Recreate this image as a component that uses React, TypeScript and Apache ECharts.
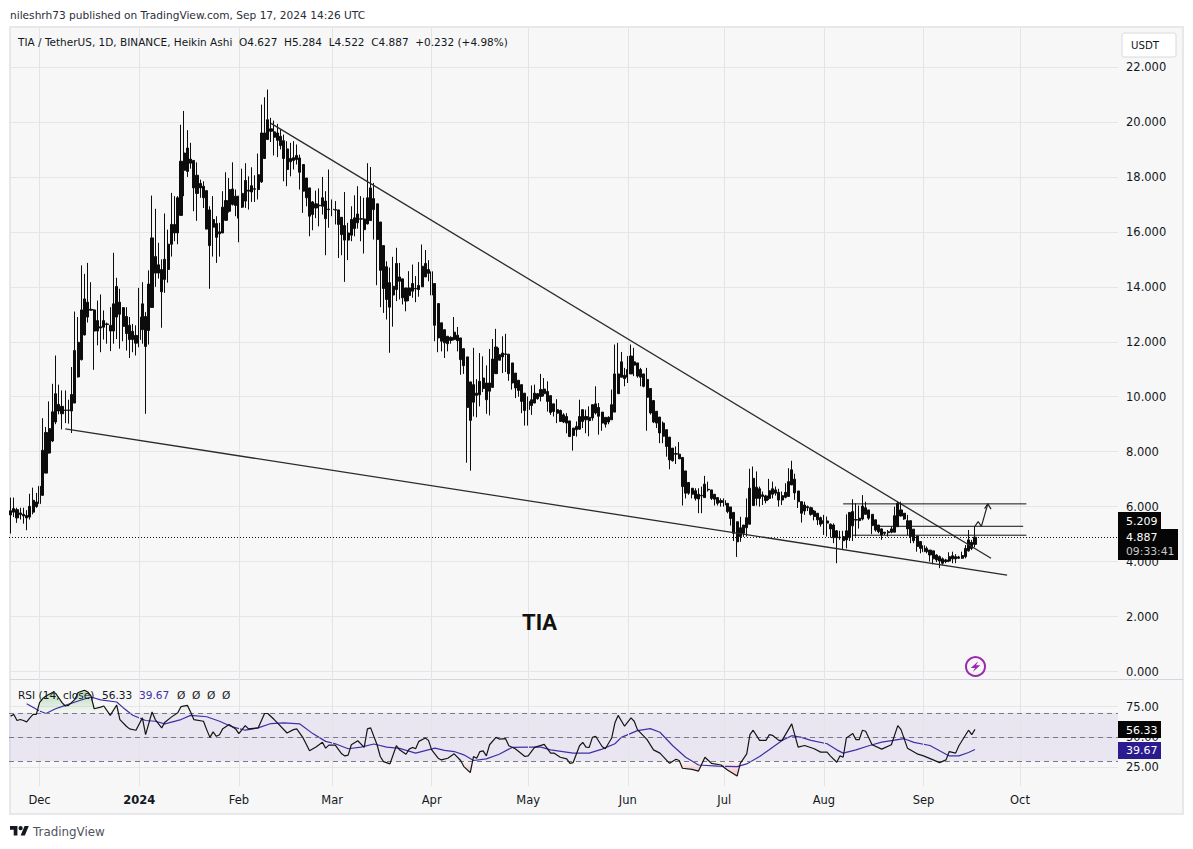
import React, { useEffect, useRef } from "react";
import * as echarts from "echarts";

// rows: [open, close, low, high]
const nov23 = [[5.7,5.85,5.02,6.33],[5.93,5.8,5.62,6.33],[5.89,5.59,5.41,5.96],[5.77,5.71,5.53,5.96],[5.72,5.66,5.38,5.96],[5.68,5.59,5.14,5.87],[5.62,6.01,5.53,6.47],[5.8,6.23,5.72,6.69],[6.0,6.17,5.96,6.5]];
const dec23 = [[6.11,6.74,6.05,7.28],[6.41,8.05,6.41,9.22],[7.22,8.7,7.22,8.9],[7.95,8.84,7.93,9.83],[8.39,9.45,8.35,10.47],[9.08,10.11,9.0,11.5],[9.48,9.72,9.36,10.44],[9.38,9.65,8.81,10.23],[9.5,9.52,9.04,10.23],[9.5,9.52,9.02,9.89],[9.48,10.08,8.68,11.08],[9.77,11.68,9.77,13.1],[10.72,11.98,10.7,12.9],[11.35,13.16,11.32,14.78],[12.25,13.56,12.23,14.47],[13.44,12.9,12.7,14.87],[13.15,13.18,13.14,14.17],[13.16,12.39,10.98,13.18],[12.77,12.39,11.87,13.5],[12.55,12.5,11.62,13.72],[12.53,12.77,12.08,13.14],[12.63,12.65,11.93,12.7],[12.6,12.39,11.66,13.26],[12.39,13.38,11.93,15.24],[12.9,14.01,12.1,14.33],[13.44,13.0,11.75,13.93],[13.24,12.56,12.02,13.26],[12.92,12.3,11.68,13.26],[12.6,12.08,11.41,12.9],[12.38,12.08,11.62,12.65],[12.23,11.95,11.5,12.6]];
const jan24 = [[12.08,12.9,11.8,13.96],[12.44,13.38,11.93,14.17],[12.92,11.83,9.38,13.08],[12.41,14.1,11.9,14.6],[13.25,15.78,13.24,17.32],[14.5,15.1,14.0,16.84],[14.8,14.5,14.3,15.6],[14.63,13.82,12.51,15.0],[14.27,15.0,13.78,16.67],[14.63,15.55,14.15,16.08],[15.55,16.27,15.1,17.42],[15.96,16.27,15.66,17.3],[15.96,17.24,15.55,17.3],[16.6,18.57,16.6,19.9],[18.24,18.87,17.3,20.4],[18.2,19.05,18.0,19.7],[18.5,18.65,18.3,19.24],[18.6,17.6,16.75,18.6],[18.06,17.4,16.4,18.53],[17.76,17.6,17.24,17.9],[17.66,17.24,16.87,17.84],[17.5,16.1,16.1,17.5],[16.8,15.5,13.93,16.93],[16.17,16.45,15.1,17.3],[16.3,15.8,14.87,16.57],[15.93,16.0,15.1,16.33],[15.96,16.9,15.96,17.48],[16.42,17.14,16.4,18.17],[16.75,17.54,16.7,17.96],[17.0,17.56,16.96,18.53],[17.3,16.96,16.57,17.54]];
const feb24 = [[17.3,16.5,15.62,17.3],[16.9,17.4,16.87,18.3],[17.12,17.87,16.87,18.5],[17.48,17.52,16.81,18.02],[17.45,17.68,17.09,18.35],[17.55,17.57,17.09,18.06],[17.54,18.08,17.18,18.85],[17.82,19.6,17.78,20.63],[18.67,19.6,18.67,20.9],[19.36,20.08,19.36,21.18],[19.75,19.66,19.27,20.15],[19.64,19.44,18.78,20.05],[19.6,19.33,18.72,19.93],[19.48,19.14,19.0,19.72],[19.32,18.67,17.84,19.54],[19.02,18.27,17.66,19.3],[18.67,18.55,18.02,19.24],[18.6,18.7,18.27,19.3],[18.63,18.78,18.45,19.18],[18.69,18.17,17.54,18.81],[18.45,17.48,16.69,18.45],[17.96,17.24,16.93,17.96],[17.6,16.57,15.84,17.6],[17.09,16.63,16.06,17.12],[17.02,16.87,16.5,17.5],[16.95,16.97,16.2,17.58],[16.93,17.24,16.63,18.0],[17.12,16.48,15.15,17.48],[16.81,16.83,16.15,18.27]];
const mar24 = [[16.81,16.83,16.57,17.18],[16.79,16.81,16.27,17.12],[16.8,16.27,15.05,16.8],[16.53,15.9,15.15,16.53],[16.23,15.7,14.18,17.45],[15.7,15.96,14.97,16.33],[15.88,16.45,15.66,16.93],[16.12,16.51,15.84,17.33],[16.33,16.65,16.12,17.66],[16.46,16.48,15.66,17.3],[16.47,16.08,15.21,17.24],[16.29,17.24,16.27,18.5],[16.41,17.6,16.4,18.36],[17.21,16.81,15.72,17.78],[17.02,15.72,14.06,17.02],[16.36,14.6,13.26,16.36],[15.5,13.94,13.05,15.5],[14.73,13.54,12.81,14.93],[14.15,13.26,11.6,14.7],[13.7,14.02,12.55,15.09],[13.9,14.85,13.48,15.42],[14.36,14.2,13.54,14.87],[14.29,13.6,13.36,14.29],[13.96,13.48,13.11,13.96],[13.68,13.96,13.48,14.57],[13.84,14.12,13.6,14.81],[13.92,13.94,13.44,14.39],[13.9,14.05,13.64,14.9],[14.0,14.75,14.0,15.54],[14.36,14.85,14.36,15.34],[14.63,14.49,14.2,14.97]];
const apr24 = [[14.55,13.7,12.81,14.55],[14.12,12.6,12.02,14.12],[13.39,12.14,11.62,13.39],[12.69,12.02,11.65,12.69],[12.44,11.96,11.41,12.44],[12.2,11.93,11.65,12.2],[12.05,12.16,11.93,12.2],[12.08,12.35,12.05,12.9],[12.24,12.04,11.65,12.54],[12.14,11.35,10.8,12.14],[11.75,11.13,10.83,11.75],[11.45,9.61,7.6,11.45],[10.54,9.14,7.31,10.54],[9.8,10.44,9.28,11.78],[10.05,10.13,9.25,10.64],[10.07,10.56,9.65,11.59],[10.3,10.68,10.17,11.47],[10.5,9.89,9.38,11.14],[10.2,10.5,9.32,11.74],[10.34,11.37,10.34,12.1],[10.84,11.81,10.84,12.47],[11.53,11.33,11.33,11.78],[11.45,11.59,10.86,12.2],[11.54,11.56,10.9,12.29],[11.55,10.84,10.58,11.55],[11.23,10.5,10.26,11.23],[10.86,10.32,9.95,10.86],[10.6,10.23,10.0,10.6],[10.44,9.83,9.4,10.44],[10.13,9.5,8.95,10.13]];
const may24 = [[9.53,9.83,8.95,10.01],[9.68,9.89,9.34,10.41],[9.77,10.13,9.77,10.44],[10.11,9.93,9.89,10.13],[10.01,10.26,9.83,10.83],[10.11,10.28,10.01,10.68],[10.19,9.83,9.46,10.56],[10.04,9.43,9.34,10.04],[9.74,9.46,9.28,9.74],[9.53,9.4,9.04,9.91],[9.5,9.1,9.1,9.53],[9.34,9.08,9.04,9.4],[9.28,9.04,8.67,9.4],[9.12,8.55,8.55,9.12],[8.86,8.59,8.04,8.86],[8.8,8.92,8.55,9.1],[8.82,9.28,8.8,9.89],[9.1,9.53,8.86,9.53],[9.28,9.16,8.67,9.53],[9.25,9.13,8.56,9.65],[9.23,9.71,9.13,9.71],[9.41,9.74,9.35,10.38],[9.61,9.29,8.62,9.77],[9.44,9.04,8.76,9.44],[9.25,9.0,8.88,9.25],[9.08,9.25,9.0,9.29],[9.16,9.71,9.16,10.26],[9.44,10.83,9.44,11.9],[10.11,10.83,10.11,11.96],[10.71,11.27,10.71,11.63],[10.78,10.66,10.38,11.05]];
const jun24 = [[10.71,10.99,10.5,11.48],[10.83,11.48,10.83,11.9],[11.15,11.27,10.75,11.78],[11.23,10.75,10.69,11.23],[10.99,10.71,10.38,11.05],[10.83,10.38,10.34,10.83],[10.63,9.98,8.76,11.05],[10.3,9.41,9.35,10.3],[9.86,9.08,9.04,9.86],[9.47,9.04,8.86,9.47],[9.26,8.68,8.31,9.26],[9.04,8.56,8.31,9.1],[8.8,8.19,7.82,8.8],[8.53,7.7,7.36,8.53],[8.13,7.67,7.64,8.13],[7.91,7.93,7.55,8.19],[7.91,7.74,7.74,8.35],[7.79,6.73,6.04,7.79],[7.3,6.49,6.3,7.3],[6.88,6.49,6.43,6.88],[6.67,6.45,6.3,6.67],[6.58,6.3,6.22,6.67],[6.45,6.28,5.76,6.67],[6.39,6.41,5.76,6.73],[6.33,6.82,6.33,7.12],[6.61,6.63,6.55,6.91],[6.61,6.3,6.24,6.61],[6.45,6.27,6.04,6.45],[6.33,6.12,6.04,6.33],[6.22,6.15,6.0,6.3]];
const jul24 = [[6.22,6.06,6.0,6.3],[6.12,5.82,5.76,6.12],[5.99,5.57,5.31,5.99],[5.79,5.03,4.75,5.79],[5.45,4.72,4.17,5.45],[4.91,5.23,4.72,5.63],[5.03,5.33,4.9,5.33],[5.23,5.6,4.91,6.3],[5.36,6.67,5.36,7.38],[6.04,7.03,6.04,7.46],[6.71,6.3,6.04,7.28],[6.65,6.3,6.0,6.73],[6.43,6.37,6.06,6.55],[6.39,6.22,6.12,6.43],[6.3,6.58,6.24,7.01],[6.45,6.65,6.3,6.91],[6.61,6.49,6.4,6.73],[6.52,6.24,6.0,6.65],[6.24,6.4,6.06,6.55],[6.34,6.52,6.3,6.85],[6.37,6.91,6.37,7.4],[6.79,7.34,6.79,7.67],[7.0,6.5,6.25,7.2],[6.57,6.18,5.95,6.57],[6.18,5.76,5.42,6.18],[6.06,5.84,5.7,6.18],[5.96,6.0,5.84,6.04],[5.96,5.72,5.67,6.0],[5.84,5.64,5.5,5.88],[5.76,5.52,5.33,5.76],[5.6,5.36,5.27,5.64]];
const aug24 = [[5.49,5.39,4.97,5.7],[5.48,5.4,4.91,5.64],[5.36,5.19,4.87,5.39],[5.33,4.87,4.67,5.39],[5.12,4.87,3.94,5.15],[4.87,4.89,4.79,5.12],[4.76,4.91,4.46,5.12],[4.79,5.12,4.48,5.72],[4.87,5.79,4.75,5.79],[5.3,5.82,4.75,6.27],[5.51,5.53,4.91,6.12],[5.49,5.58,5.2,6.04],[5.55,6.02,5.5,6.42],[5.96,5.72,5.72,6.18],[5.88,5.58,5.52,5.88],[5.72,5.31,5.0,5.72],[5.52,5.15,5.09,5.52],[5.33,5.09,5.03,5.33],[5.19,4.97,4.79,5.21],[5.03,5.07,4.97,5.07],[5.05,5.09,4.91,5.15],[5.07,5.19,5.03,5.27],[5.07,5.67,5.07,6.0],[5.27,6.12,5.27,6.18],[5.88,5.66,5.64,6.18],[5.76,5.55,5.52,5.76],[5.49,5.19,4.97,5.7],[5.49,4.91,4.67,5.49],[5.18,4.76,4.67,5.18],[4.93,4.55,4.36,4.93],[4.73,4.48,4.3,4.73]];
const sep24 = [[4.58,4.36,4.24,4.7],[4.48,4.36,4.3,4.55],[4.42,4.24,4.0,4.42],[4.39,4.1,3.9,4.39],[4.24,4.06,3.98,4.27],[4.18,4.02,3.76,4.22],[4.1,3.94,3.88,4.15],[4.0,4.06,3.94,4.1],[4.02,4.18,3.98,4.34],[4.1,4.21,3.94,4.36],[4.18,4.1,3.94,4.27],[4.12,4.17,4.1,4.21],[4.12,4.22,4.1,4.36],[4.18,4.48,4.12,4.6],[4.39,4.79,4.36,5.15],[4.7,4.48,4.42,4.79],[4.627,4.887,4.522,5.284]];

// [candle index, value] vertices
const rsiA = [[0,67.2],[1,68.6],[2,63.6],[3,64.4],[4,63.6],[5,62.5],[6,65.8],[7,68.6],[8,68.6],[9,78.3],[10,81.7],[11,83.9],[13,86.7],[14,86.1],[16,78.3],[17,75.6],[18,76.1],[20,81],[21,86.7],[23,88.6],[24,87.2],[25,83.9],[26,73.3],[28,74.7],[29,75.6],[31,67.8],[33,76.4],[34,64.4],[36,58.9],[37,56.7],[39,55.6],[41,65.8],[42,51.9],[44,70.6],[45,64.4],[47,57.5],[48,62.2],[50,66.4],[52,70],[53,75],[55,76.1],[56,70.6],[57,64.4],[60,63],[61,56.1],[62,49.7],[63,54.2],[64,50.6],[65,51.9],[66,56.9],[68,60.3],[70,56.7],[71,52.8],[73,59.4],[74,56.7],[77,57.5],[79,69.4],[80,69.4],[82,64.4],[83,61.7],[86,53.3],[88,56.1],[89,56.7],[91,49.2],[93,38.6],[95,41.7],[97,45.6],[98,40.8],[99,43.3],[101,43.3],[103,36.1],[104,34.4],[105,35],[106,43.6],[108,46.9],[110,41.4],[111,56.7],[112,57.5],[114,43.6],[115,33.9],[116,29.7],[118,27.8],[120,42.8]];
const rsiB = [[121,39.4],[123,35.8],[124,40],[125,41.4],[126,40.3],[127,46.4],[129,49.2],[130,47.2],[131,39.4],[133,32.5],[134,31.1],[136,32.5],[138,36.1],[140,30.6],[141,25.6],[143,20.6],[144,33.9],[145,32.5],[146,38],[147,38.6],[148,34.4],[149,43.6],[151,49.7],[152,48.3],[154,48.6],[155,42.8],[157,40.3],[160,33.9],[161,34.4],[163,41.4],[166,43.9],[168,36.7],[169,36.7],[171,33.3],[173,32],[174,28.3],[175,28.9],[177,42.8],[178,45.6],[179,41.7],[180,41.4],[181,49.7],[182,50.6],[184,42.2],[185,40.3],[187,49.2],[188,61.7],[189,67.8],[191,58.9],[193,65.8],[194,63],[195,56.1],[198,47.8],[200,39.4],[202,36.7],[205,28.3],[207,31.7],[208,30.6],[209,24.2],[212,23.3],[214,21.9],[216,33.3],[218,28.3],[221,26.9],[223,22.8],[226,17.8],[227,28.3],[229,36.1],[230,51.9],[231,55.6],[233,47.2],[235,47.2],[236,51.9],[237,51.4],[239,47.2],[240,47.2],[243,60.8]];
const rsiC = [[245,41.7],[247,43],[250,40.3],[252,37.5],[254,37.5],[255,34.4],[257,29.2],[258,34.4],[259,33.3],[260,49.2],[262,52.8],[263,47.8],[264,47.8],[265,55.6],[266,54.7],[268,43.6],[271,40],[274,43.6],[276,59.4],[277,56.1],[279,40.8],[282,36.1],[284,34.4],[287,31.1],[289,28.9],[291,31.1],[292,38],[294,36.7],[295,42.8],[298,55.6],[299,51.9],[300,56.33]];
const maA = [[5,77.5],[9,71.4],[11,69.4],[14,73.3],[17,76.1],[21,79.7],[25,83],[28,80.6],[33,78.9],[35,74.2],[38,68],[42,63.6],[45,63],[48,60.8],[53,64.4],[56,67.8],[61,66.7],[65,63],[69,58.3],[73,55.6],[77,57.5],[81,61.1],[85,61.7],[90,60.8],[94,52.8],[98,46.4],[101,44.4],[105,40.3],[109,41.7],[113,44.2],[117,41.7]];
const maB = [[121,40.6],[126,36.7],[132,40.8],[135,38.9],[138,38],[141,35.3],[144,30.6],[148,31.9],[152,35.8],[156,41.4],[161,41.7],[165,41.7],[168,39.4],[175,36.7],[180,36.7],[184,40],[188,44.4],[190,49.7],[195,55.3],[199,56.9],[202,53.9],[206,42.8],[210,33.3],[214,26.9],[220,26],[226,25.6],[229,27.8],[233,33.9],[236,39.4],[240,47.2],[243,51.1]];
const maC = [[246,49.7],[249,47.2],[254,44.4],[257,39.4],[259,36.7],[263,39.4],[267,42.8],[271,45.8],[278,48.6],[281,45.6],[286,43],[289,38.6],[292,34.4],[295,34.4],[298,37.2],[300,39.67]];

// [candle index, price] end points of the drawn annotations
const upperTrend = [[81,19.95],[305,4.12]];
const lowerTrend = [[17,8.83],[310,3.51]];
const levelHigh = [[259,6.1],[316,6.1]];
const levelMid = [[270,5.285],[315,5.285]];
const levelLow = [[262,4.96],[316,4.96]];
const arrowShaft = [[300,5.28],[301,5.46],[302,5.28],[304,6.1]];
const arrowHead = [[303,5.93],[304,6.1],[305,5.91]];

const monthTicks = [["2023-12-01","Dec"],["2024-01-01","2024"],["2024-02-01","Feb"],["2024-03-01","Mar"],["2024-04-01","Apr"],["2024-05-01","May"],["2024-06-01","Jun"],["2024-07-01","Jul"],["2024-08-01","Aug"],["2024-09-01","Sep"],["2024-10-01","Oct"]];
const priceTicks = { min: 0, max: 22, step: 2 };
const lastClose = 4.887;
const rsiLevels = [70, 50, 30];

const candles = [...nov23, ...dec23, ...jan24, ...feb24, ...mar24, ...apr24, ...may24, ...jun24, ...jul24, ...aug24, ...sep24];
const categories: string[] = [];
for (let i = 0; i < 345; i++) {
  categories.push(new Date(Date.UTC(2023, 10, 22 + i)).toISOString().slice(0, 10));
}
const monthLabel: Record<string, string> = Object.fromEntries(monthTicks);
const at = (rows: number[][]) => rows.map(([i, v]) => [categories[i], v]);
const rsi = [...rsiA, ...rsiB, ...rsiC];
const ma = [...maA, ...maB, ...maC];

const FONT = '"DejaVu Sans"';
const LEFT = 9;
const WIDTH = 1109;

function txt(text: string, x: number, y: number, size: number, fill: string, extra: any = {}) {
  return {
    type: "text", x, y, z: 100, silent: true,
    style: { text, fill, font: `${extra.weight || "normal"} ${size}px ${extra.family || FONT}`, textVerticalAlign: "middle", textAlign: extra.align || "left" },
  };
}
function box(x: number, y: number, width: number, height: number, fill: string, r = 0) {
  return { type: "rect", z: 99, silent: true, shape: { x, y, width, height, r }, style: { fill } };
}
function annotation(rows: number[][], color = "#2a2a2a", width = 1.3) {
  return {
    type: "line", xAxisIndex: 1, yAxisIndex: 1, data: at(rows), symbol: "none", silent: true, clip: false, z: 5,
    lineStyle: { color, width }, animation: false,
  };
}

export default function App() {
  const ref = useRef<HTMLDivElement>(null);
  useEffect(() => {
    if (!ref.current) return;
    const chart = echarts.init(ref.current, undefined, { renderer: "svg" });
    echarts.graphic.registerShape("tvlogo", echarts.graphic.extendPath("M14 22H7V11H0V4h14v18zM28 22h-8l7.5-18h8L28 22zM24 8a4 4 0 1 1-8 0 4 4 0 0 1 8 0z", {}));
    const catAxis = (gridIndex: number, extra: any = {}) => ({
      type: "category", gridIndex, data: categories, boundaryGap: true,
      axisLine: { show: false }, axisTick: { show: false }, splitLine: { show: false }, axisLabel: { show: false }, ...extra,
    });
    const gridLine = { show: true, lineStyle: { color: "#E6E6E8", width: 1 } };
    const option: any = {
      animation: false,
      backgroundColor: "#FFFFFF",
      grid: [
        { left: LEFT, width: WIDTH, top: 27, height: 759 },
        { left: LEFT, width: WIDTH, top: 67, height: 604.5 },
        { left: LEFT, width: WIDTH, top: 706.7, height: 60.6 },
      ],
      xAxis: [
        catAxis(0),
        catAxis(1),
        catAxis(2, {
          axisLabel: {
            show: true, margin: 27, fontFamily: FONT, fontSize: 11.5, color: "#131722",
            interval: (_: number, v: string) => v in monthLabel,
            formatter: (v: string) => (monthLabel[v] === "2024" ? "{b|2024}" : monthLabel[v] || ""),
            rich: { b: { fontWeight: "bold", fontFamily: FONT, fontSize: 11.5, color: "#131722" } },
          },
        }),
      ],
      yAxis: [
        { type: "value", gridIndex: 0, min: 0, max: 1, show: false },
        {
          type: "value", gridIndex: 1, position: "right", min: priceTicks.min, max: priceTicks.max, interval: priceTicks.step,
          axisLine: { show: false }, axisTick: { show: false }, splitLine: gridLine,
          axisLabel: { fontFamily: FONT, fontSize: 11.5, color: "#131722", margin: 8, formatter: (v: number) => v.toFixed(3) },
        },
        {
          type: "value", gridIndex: 2, position: "right", min: 25, max: 75, interval: 25,
          axisLine: { show: false }, axisTick: { show: false }, splitLine: gridLine,
          axisLabel: { fontFamily: FONT, fontSize: 11.5, color: "#131722", margin: 8, formatter: (v: number) => v.toFixed(2) },
        },
      ],
      series: [
        {
          type: "line", xAxisIndex: 0, yAxisIndex: 0, data: [], symbol: "none", silent: true, z: 1,
          markLine: {
            silent: true, symbol: ["none", "none"], label: { show: false }, animation: false,
            lineStyle: { color: "#E4E4E7", width: 1, type: "solid" },
            data: monthTicks.map(([d]) => ({ xAxis: d })),
          },
        },
        {
          type: "candlestick", xAxisIndex: 1, yAxisIndex: 1, data: candles, barWidth: 2.6, silent: true, z: 3, clip: false,
          itemStyle: { color: "#0C0C0C", color0: "#0C0C0C", borderColor: "#0C0C0C", borderColor0: "#0C0C0C", borderWidth: 1 },
          markLine: {
            silent: true, symbol: ["none", "none"], label: { show: false }, animation: false,
            lineStyle: { color: "#111111", width: 1, type: [1, 2] },
            data: [{ yAxis: lastClose }],
          },
        },
        annotation(upperTrend),
        annotation(lowerTrend),
        annotation(levelHigh, "#111111", 1),
        annotation(levelMid, "#111111", 1),
        annotation(levelLow, "#111111", 1),
        annotation(arrowShaft, "#222222", 1.2),
        annotation(arrowHead, "#222222", 1.2),
        {
          type: "line", xAxisIndex: 2, yAxisIndex: 2, data: at(rsi.map(([i, v]) => [i, Math.max(v, 70)])), symbol: "none", silent: true, clip: false, z: 2,
          lineStyle: { opacity: 0 },
          areaStyle: { origin: 70, color: new echarts.graphic.LinearGradient(0, 0, 0, 1, [{ offset: 0, color: "rgba(76,175,80,0.55)" }, { offset: 1, color: "rgba(76,175,80,0.02)" }]) },
        },
        {
          type: "line", xAxisIndex: 2, yAxisIndex: 2, data: at(rsi.map(([i, v]) => [i, Math.min(v, 30)])), symbol: "none", silent: true, clip: false, z: 2,
          lineStyle: { opacity: 0 },
          areaStyle: { origin: 30, color: new echarts.graphic.LinearGradient(0, 0, 0, 1, [{ offset: 0, color: "rgba(255,82,82,0.02)" }, { offset: 1, color: "rgba(255,82,82,0.45)" }]) },
        },
        {
          type: "line", xAxisIndex: 2, yAxisIndex: 2, data: at(ma), symbol: "none", silent: true, clip: false, z: 4,
          lineStyle: { color: "#3F2FA8", width: 1.2 },
          markArea: { silent: true, itemStyle: { color: "rgba(126,87,194,0.1)" }, data: [[{ yAxis: rsiLevels[0] }, { yAxis: rsiLevels[2] }]] },
          markLine: {
            silent: true, symbol: ["none", "none"], label: { show: false }, animation: false,
            lineStyle: { color: "#787B86", width: 1, type: [5, 4] },
            data: rsiLevels.map((v) => ({ yAxis: v })),
          },
        },
        {
          type: "line", xAxisIndex: 2, yAxisIndex: 2, data: at(rsi), symbol: "none", silent: true, clip: false, z: 5,
          lineStyle: { color: "#151515", width: 1.2 },
        },
      ],
      graphic: [
        { type: "rect", z: -10, silent: true, shape: { x: 10, y: 27, width: 1173, height: 787 }, style: { fill: "#F7F7F7", stroke: "#E8E8EA", lineWidth: 2 } },
        { type: "line", z: 1, silent: true, shape: { x1: 10, y1: 679.5, x2: 1183, y2: 679.5 }, style: { stroke: "#D6D4E0", lineWidth: 1 } },
        txt("nileshrh73 published on TradingView.com, Sep 17, 2024 14:26 UTC", 10, 14.5, 10.6, "#2A2E39"),
        txt("TIA / TetherUS, 1D, BINANCE, Heikin Ashi  O4.627  H5.284  L4.522  C4.887  +0.232 (+4.98%)", 18, 41.5, 10.5, "#131722"),
        txt("TIA", 522, 622, 22, "#111111", { weight: "bold", family: "Roboto" }),
        { type: "rect", z: 98, silent: true, shape: { x: 1122, y: 33, width: 54, height: 24, r: 2 }, style: { fill: "#FFFFFF", stroke: "#DADADF", lineWidth: 1 } },
        txt("USDT", 1131, 45, 10.2, "#131722"),
        box(1118, 512, 43, 17.5, "#050505"),
        txt("5.209", 1126, 521, 11, "#FFFFFF"),
        box(1118, 529, 60, 31, "#050505"),
        txt("4.887", 1126, 537.5, 11, "#FFFFFF"),
        txt("09:33:41", 1126, 551.5, 10.8, "#C8C8C8"),
        box(1118, 721, 43, 17, "#050505"),
        txt("56.33", 1126, 730, 11, "#FFFFFF"),
        box(1118, 742, 43, 17, "#2A1B8F"),
        txt("39.67", 1126, 750.5, 11, "#FFFFFF"),
        txt("RSI (14, close)", 18, 694.5, 10.6, "#131722"),
        txt("56.33", 102, 694.5, 10.6, "#131722"),
        txt("39.67", 139, 694.5, 10.6, "#3F2FA8"),
        txt("Ø", 177, 694.5, 10.6, "#131722"),
        txt("Ø", 192, 694.5, 10.6, "#131722"),
        txt("Ø", 207, 694.5, 10.6, "#131722"),
        txt("Ø", 222, 694.5, 10.6, "#131722"),
        { type: "circle", z: 100, silent: true, shape: { cx: 975.5, cy: 666.5, r: 9.5 }, style: { fill: "#F7F7F7", stroke: "#9C27B0", lineWidth: 2 } },
        { type: "polygon", z: 101, silent: true, shape: { points: [[977.7, 661.7], [970.7, 668], [975, 668], [972.8, 672], [980.3, 665.2], [976, 665.2], [978, 661.7]] }, style: { fill: "#9C27B0" } },
        { type: "tvlogo", z: 100, silent: true, x: 10, y: 823.9, scaleX: 0.53, scaleY: 0.53, style: { fill: "#131722" } },
        txt("TradingView", 33, 831.5, 11.9, "#50535E"),
      ],
    };
    chart.setOption(option);
    return () => chart.dispose();
  }, []);
  return <div ref={ref} style={{ position: "absolute", left: 0, top: 0, width: 1193, height: 849 }} />;
}
